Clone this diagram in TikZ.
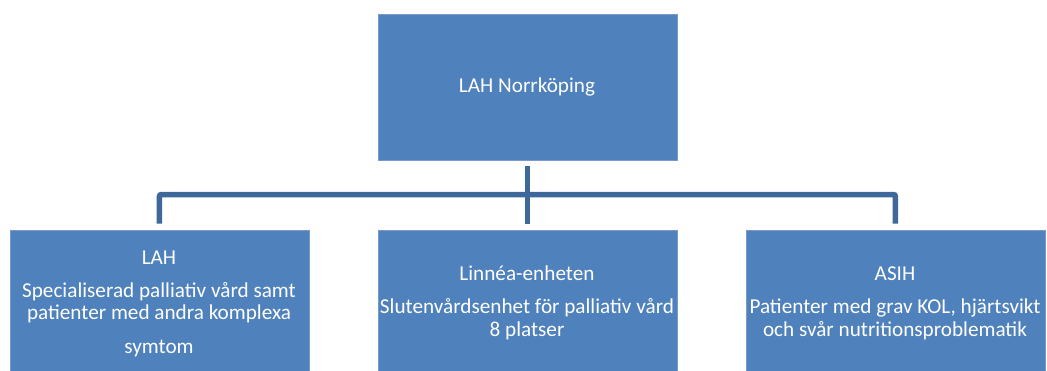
\documentclass[tikz,border=0pt]{standalone}
\usepackage{fontspec}
\setmainfont{Carlito}
\definecolor{boxfill}{RGB}{79,129,189}
\definecolor{boxedge}{RGB}{122,156,204}
\definecolor{conncol}{RGB}{62,104,153}
\begin{document}
\begin{tikzpicture}[x=1pt,y=-1pt,
  box/.style={draw=boxedge, line width=0.8pt, fill=boxfill, inner sep=0pt, anchor=north west},
  txt/.style={text=white, inner sep=0pt, anchor=base, font=\fontsize{21.2}{23}\selectfont},
  conn/.style={draw=conncol, line width=5.5pt, rounded corners=2pt}]
\useasboundingbox (0,0) rectangle (1047,370);
\node[box, minimum width=299pt, minimum height=146.5pt] (top) at (377.5,13.5) {};
\node[box, minimum width=299pt, minimum height=145pt] (left) at (9.5,229.5) {};
\node[box, minimum width=299pt, minimum height=145pt] (mid) at (377.5,229.5) {};
\node[box, minimum width=299pt, minimum height=145pt] (right) at (745.5,229.5) {};
\coordinate (bus) at (top.south |- 0,194.5);
\draw[conn, shorten <=5pt, shorten >=6pt] (top.south) -- (mid.north);
\draw[conn, shorten <=6pt, shorten >=6pt] (left.north) |- (bus) -| (right.north);
\node[txt] (ttop) at (527,92.7) {LAH Norrköping};
\node[txt] (l1) at (159,264) {LAH};
\node[txt] (l2) at (159,297.3) {Specialiserad palliativ vård samt};
\node[txt] (l3) at (159,319.5) {patienter med andra komplexa};
\node[txt] (l4) at (159,353) {symtom};
\node[txt] (m1) at (527,280.7) {Linnéa-enheten};
\node[txt] (m2) at (527,313.3) {Slutenvårdsenhet för palliativ vård};
\node[txt] (m3) at (527,336.7) {8 platser};
\node[txt] (r1) at (895,280.7) {ASIH};
\node[txt] (r2) at (895,313.3) {Patienter med grav KOL, hjärtsvikt};
\node[txt] (r3) at (895,336.7) {och svår nutritionsproblematik};
\end{tikzpicture}
\end{document}
